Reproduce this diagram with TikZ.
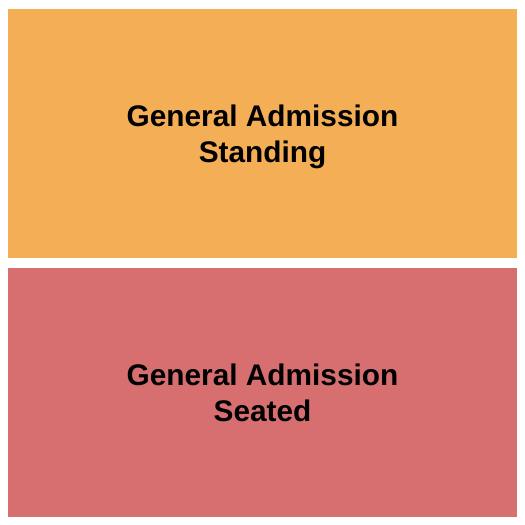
\documentclass[tikz,border=0pt]{standalone}
\usepackage{fontspec}
\setmainfont{Liberation Sans}
\definecolor{standc}{RGB}{244,174,86}
\definecolor{seatc}{RGB}{215,111,112}
\begin{document}
\begin{tikzpicture}[x=1pt,y=-1pt,
  zlabel/.style={font=\bfseries\fontsize{29.8}{36}\selectfont,align=center,text=black}]
\useasboundingbox[fill=white] (0,0) rectangle (525,525);
\fill[standc] (8,8.5) rectangle (517,257.5);
\fill[seatc] (8,267.5) rectangle (517,517);
\coordinate (s) at (262.5,136.5);
\coordinate (t) at (262.5,392.5);
\node[zlabel] (standing) at (s) {General Admission\\Standing};
\node[zlabel] (seated) at (t) {General Admission\\Seated};
\end{tikzpicture}
\end{document}
